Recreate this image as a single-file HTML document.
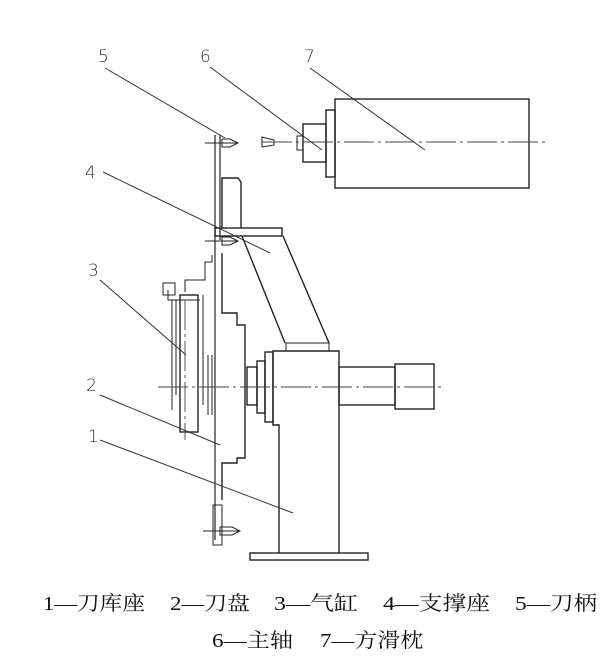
<!DOCTYPE html>
<html><head><meta charset="utf-8"><style>
html,body{margin:0;padding:0;background:#fff;width:609px;height:666px;overflow:hidden}
</style></head><body>
<svg width="609" height="666" viewBox="0 0 609 666" xmlns="http://www.w3.org/2000/svg">
<g fill="none" stroke="#222" stroke-width="1.4">
<rect x="335" y="99" width="194" height="89"/>
<rect x="326" y="110" width="9" height="67"/>
<rect x="303" y="124" width="23" height="38"/>
<rect x="297" y="136" width="6" height="14" stroke-width="1"/>
<path d="M262 137 L274 140 L274 145 L262 147 Z" stroke-width="1"/>
<rect x="250" y="553" width="118" height="7"/>
<path d="M279 553 L279 425 L273 425 L273 351 L339 351 L339 553"/>
<rect x="265" y="352" width="8" height="70"/>
<rect x="257" y="361" width="8" height="52"/>
<rect x="247" y="367" width="10" height="38"/>
<rect x="339" y="367" width="56" height="38"/>
<rect x="395" y="364" width="39" height="45"/>
<rect x="286" y="343" width="43" height="8" stroke-width="1"/>
<path d="M242 236 L285 343 M283 236 L329 343"/>
<rect x="215" y="228" width="67" height="8"/>
<path d="M222 228 L222 178 L238 178 L241 182 L241 228"/>
<path d="M222 253 L222 313 L237 313 L237 325 L245 325 L245 458 L237 458 L237 463 L222 463 L222 500"/>
<path d="M215 135 L215 540 M220 135 L220 240" stroke-width="1.2"/>
<path d="M212 255 L212 262 L205 262 L205 280 L185 280 L185 292" stroke-width="1"/>
<rect x="180" y="295" width="18" height="137"/>
<path d="M168 290 L168 300 L200 300 M172 300 L172 410 M176 300 L176 395 M203 295 L203 405 M208 355 L208 415 M212 355 L212 415" stroke-width="1"/>
<rect x="163" y="283" width="12" height="12" stroke-width="1"/>
<path d="M205 143 L238 143 M222 139 L230 139 L238 143 L230 147 L222 147 Z" stroke-width="1"/>
<path d="M205 241 L238 241 M222 237 L230 237 L238 241 L230 245 L222 245 Z" stroke-width="1"/>
<path d="M203 531 L240 531 M220 527 L232 527 L240 531 L232 535 L220 535 Z M213 505 L222 505 L222 545 L213 545 Z" stroke-width="1"/>
</g>
<g stroke="#444" stroke-width="0.9" stroke-dasharray="30,4,3,4">
<path d="M262 142 L548 142"/>
<path d="M158 387 L445 387"/>
<path d="M185 300 L185 440"/>
</g>
<g stroke="#333" stroke-width="1">
<path d="M105 68 L225 138"/>
<path d="M210 67 L322 150"/>
<path d="M310 68 L425 150"/>
<path d="M103 172 L270 253"/>
<path d="M100 280 L186 355"/>
<path d="M100 395 L220 445"/>
<path d="M100 440 L293 513"/>
</g>
<g font-family="DejaVu Sans, sans-serif" font-size="17" font-weight="200" fill="#333">
<text x="98" y="62">5</text><text x="200" y="62">6</text><text x="304" y="62">7</text>
<text x="85" y="178">4</text><text x="88" y="276">3</text><text x="86" y="391">2</text><text x="88" y="442">1</text>
</g>
<g font-family="Liberation Serif, 'Noto Serif CJK SC', serif" font-size="20" fill="#111">
<text x="43" y="610" textLength="102" lengthAdjust="spacingAndGlyphs">1—刀库座</text>
<text x="170" y="610" textLength="80" lengthAdjust="spacingAndGlyphs">2—刀盘</text>
<text x="274" y="610" textLength="84" lengthAdjust="spacingAndGlyphs">3—气缸</text>
<text x="383" y="610" textLength="107" lengthAdjust="spacingAndGlyphs">4—支撑座</text>
<text x="515" y="610" textLength="82" lengthAdjust="spacingAndGlyphs">5—刀柄</text>
<text x="212" y="647" textLength="81" lengthAdjust="spacingAndGlyphs">6—主轴</text>
<text x="320" y="647" textLength="103" lengthAdjust="spacingAndGlyphs">7—方滑枕</text>
</g>
</svg>
</body></html>
